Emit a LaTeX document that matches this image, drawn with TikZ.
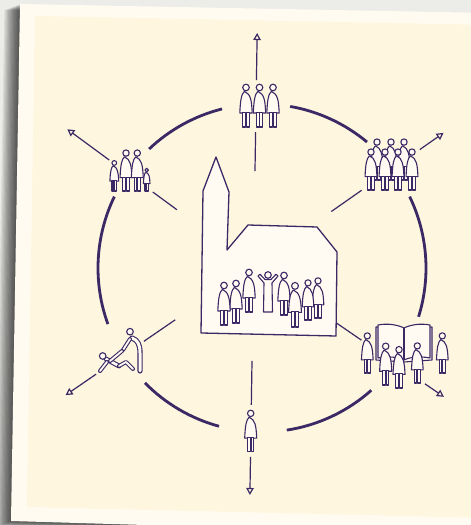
\documentclass[tikz,border=0pt]{standalone}
\usepackage{tikz}
\usetikzlibrary{arrows.meta}
\definecolor{ink}{RGB}{59,41,102}
\definecolor{backdrop}{RGB}{236,236,233}
\definecolor{paperedge}{RGB}{255,251,240}
\definecolor{panel}{RGB}{254,246,222}
\definecolor{figfill}{RGB}{255,251,242}

\tikzset{
  % standing figure, feet at the origin
  person/.pic={
    \draw[fig] (-1.6,35.6) .. controls (4.6,33) and (5.6,27) .. (6.2,14)
               -- (-6.2,14) .. controls (-5.6,27) and (-4.6,33) .. (-1.6,35.6) -- cycle;
    \draw[fig] (-3.3,0) rectangle (-0.4,14.5);
    \draw[fig] (0.4,0) rectangle (3.3,14.5);
    \draw[fig] (0,39.5) circle (3.3);
  },
  % figure with raised arms, head at the origin
  priest/.pic={
    \draw[fig] (-10,-1) -- (-4,-8) -- (-4.5,-37) -- (4.5,-37) -- (4,-8) -- (10,-1)
               -- (8,0.8) -- (3,-4.5) -- (-3,-4.5) -- (-8,0.8) -- cycle;
    \draw[fig] (0,0) circle (3.3);
  },
}

\begin{document}
\begin{tikzpicture}[
    x=1pt, y=1pt,
    fig/.style={draw=ink, fill=figfill, line width=1.1pt, line join=round},
    limb/.style={draw=ink, double=figfill, double distance=1.8pt,
                 line width=1.1pt, line cap=round, line join=round},
    ring/.style={draw=ink, line width=2.8pt},
    ray/.style={draw=ink, line width=1.2pt},
    tipped/.style={-{Triangle[open, length=7pt, width=7.5pt]}},
  ]
  \useasboundingbox (0,0) rectangle (471,525);
  \clip (0,0) rectangle (471,525);
  \fill[backdrop] (0,0) rectangle (471,525);

  % ── sheet with its shadow ──
  \foreach \i in {1,...,12}
    \fill[black, opacity=0.075, shift={(-1.3*\i,-0.5*\i)}]
      (20,521) -- (490,512) -- (480,-10) -- (11,4) -- cycle;
  \fill[paperedge] (20,521) -- (490,512) -- (480,-10) -- (11,4) -- cycle;
  \fill[panel] (35,509) -- (490,500) -- (490,7) -- (27,18) -- cycle;

  \coordinate (ring) at (262,257);
  \coordinate (hub) at (253.5,259);

  % ── broken circle ──
  \foreach \s/\e in {104.1/133.5, 154.2/200, 224.5/254.8,
                     278.7/311.8, 342.7/385.8, 50.2/80.1}
    \draw[ring] (ring) ++(\s:164) arc[start angle=\s, end angle=\e, radius=164];

  % ── rays: inner piece, outer piece with tip ──
  \foreach \n/\a/\p/\q/\r in {t/89.1/134/186/233, ur/35/132/203/232,
                              lr/-34.5/131/208/231, b/-90.9/139/191/229,
                              ll/214.5/133/191/228, ul/143.7/125/179/231} {
    \path (hub) ++(\a:95) coordinate (ri\n)
          (hub) ++(\a:\p) coordinate (ro\n)
          (hub) ++(\a:\q) coordinate (os\n)
          (hub) ++(\a:\r) coordinate (tip\n);
    \draw[ray] (ri\n) -- (ro\n);
    \draw[ray, tipped] (os\n) -- (tip\n);
  }

  % ── church ──
  \draw[fig, line width=1.3pt] (216,368) -- (229,333) -- (227,275) -- (248,300)
    -- (317,298) -- (337,273) -- (336,189) -- (201,192) -- (203,334) -- cycle;
  \foreach \x/\y/\s in {249/213/1, 284/210/1, 318/207/0.94, 308/205/0.94,
                        236/202/1, 224/200/1, 295/198/1.04}
    \pic[scale=\s] at (\x,\y) {person};
  \pic at (268,250) {priest};

  % ── top: three ──
  \foreach \x in {246,259.5,273}
    \pic at (\x,398) {person};

  % ── upper right: crowd ──
  \foreach \x in {377,391,404}
    \pic[scale=0.96] at (\x,345) {person};
  \foreach \x in {371,385,398,412}
    \pic[scale=0.96] at (\x,335) {person};

  % ── upper left: family ──
  \pic[scale=0.96] at (126,334) {person};
  \pic[scale=0.96] at (137.3,334) {person};
  \pic[scale=0.71] at (114.3,334) {person};
  \pic[scale=0.53] at (146.7,334) {person};

  % ── lower right: book and readers ──
  \draw[fig] (376,165) -- (376,198) -- (404,196) -- (432,198) -- (432,165)
    -- (404,163) -- cycle;
  \draw[fig] (378,167) -- (378,200) .. controls (388,202) and (398,200) .. (404,197)
    .. controls (410,200) and (420,202) .. (430,200) -- (430,167)
    .. controls (420,169) and (410,168) .. (404,165)
    .. controls (398,168) and (388,169) .. (378,167) -- cycle;
  \draw[fig] (404,197) -- (404,165);
  \pic[scale=0.94] at (367.3,152) {person};
  \pic[scale=0.94] at (442.3,152) {person};
  \pic[scale=0.98] at (385.7,140) {person};
  \pic[scale=0.94] at (417.3,142) {person};
  \pic[scale=0.97] at (399,137) {person};

  % ── bottom: one ──
  \pic[scale=0.97] at (250.7,73.3) {person};

  % ── lower left: helping up ──
  \draw[limb, double distance=3pt] (132,187) .. controls (138,185) and (140,180)
    .. (140,172) -- (140,154);
  \draw[limb] (130,186) -- (123,175);
  \draw[limb, double distance=2.6pt] (106,166) -- (119,159);
  \draw[limb] (110,164) -- (122,174);
  \draw[limb] (107,163) -- (100,154);
  \draw[limb] (119,159) -- (126,163) -- (133,156);
  \draw[fig] (130,193.3) circle (3.3);
  \draw[fig] (102.7,169) circle (3.3);
\end{tikzpicture}
\end{document}
